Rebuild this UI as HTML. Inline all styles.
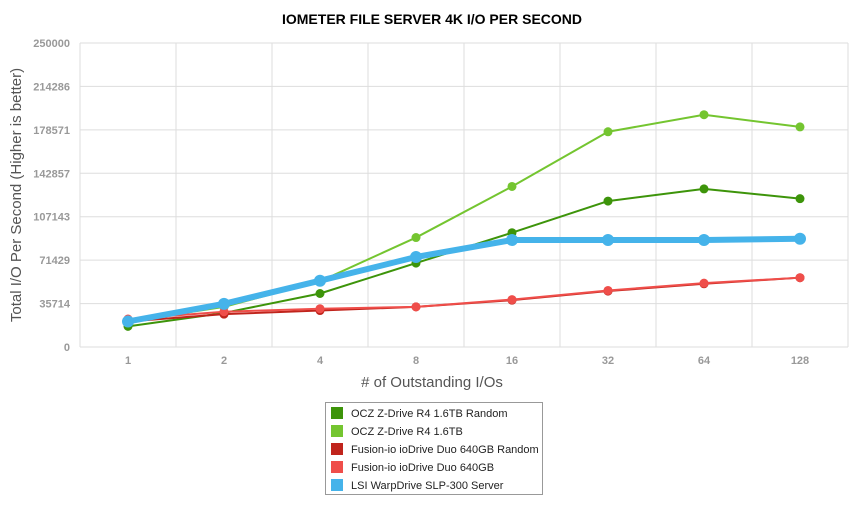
<!DOCTYPE html>
<html><head><meta charset="utf-8"><style>
body{margin:0;background:#fff;font-family:"Liberation Sans",sans-serif}
</style></head><body>
<svg id="chart" width="850" height="517" xmlns="http://www.w3.org/2000/svg">
<text x="432" y="24" text-anchor="middle" font-size="14" font-weight="bold" fill="#000">IOMETER FILE SERVER 4K I/O PER SECOND</text>
<g id="grid"></g>
<g id="series"></g>
<text x="432" y="387" text-anchor="middle" font-size="15" fill="#555"># of Outstanding I/Os</text>
<text transform="translate(21,195) rotate(-90)" text-anchor="middle" font-size="15" fill="#555">Total I/O Per Second (Higher is better)</text>
<g id="legend"></g>
</svg>
<script>
const categories=["1","2","4","8","16","32","64","128"];
const yTicks=[0,35714,71429,107143,142857,178571,214286,250000];
const seriesNames=["OCZ Z-Drive R4 1.6TB Random","OCZ Z-Drive R4 1.6TB","Fusion-io ioDrive Duo 640GB Random","Fusion-io ioDrive Duo 640GB","LSI WarpDrive SLP-300 Server"];
const seriesColors=["#3d940a","#74c530","#c0241c","#ef4e4a","#45b3ea"];
const oczRandom=[17000,28000,44000,69000,94000,120000,130000,122000];
const ocz=[21000,33000,54000,90000,132000,177000,191000,181000];
const fusionRandom=[21000,27000,30000,33000,38500,46000,52000,57000];
const fusion=[23000,29000,31500,33000,39000,46500,52500,57000];
const lsi=[21000,35500,54500,74000,88000,88000,88000,89000];
const allSeries=[oczRandom,ocz,fusionRandom,fusion,lsi];
const NS="http://www.w3.org/2000/svg";
const L=80,R=848,T=43,B=347,yMax=250000;
const band=(R-L)/categories.length;
const xPos=i=>L+band*(i+0.5);
const yPos=v=>B-(v/yMax)*(B-T);
function mk(tag,attrs,parent){const e=document.createElementNS(NS,tag);for(const k in attrs)e.setAttribute(k,attrs[k]);parent.appendChild(e);return e;}
const grid=document.getElementById('grid');
yTicks.forEach(t=>{
 const ln=mk('line',{x1:L,x2:R,y1:yPos(t),y2:yPos(t),stroke:'#ddd','stroke-width':1},grid);
 
 
 const tx=mk('text',{x:L-10,y:yPos(t)+4,'text-anchor':'end','font-size':11,'font-weight':'bold',fill:'#999'},grid);
 tx.textContent=t;
 
 
});
for(let i=0;i<=categories.length;i++){
 const ln=mk('line',{x1:L+band*i,x2:L+band*i,y1:T,y2:B,stroke:'#ddd','stroke-width':1},grid);
 
 
}
categories.forEach((c,i)=>{
 const tx=mk('text',{x:xPos(i),y:B+17,'text-anchor':'middle','font-size':11,'font-weight':'bold',fill:'#999'},grid);
 tx.textContent=c;
 
 
});
const sg=document.getElementById('series');
allSeries.forEach((data,s)=>{
 const g=mk('g',{},sg);
 
 
 const w=s===4?6:2, r=s===4?6:4.5;
 const pl=mk('polyline',{points:data.map((v,i)=>xPos(i)+','+yPos(v)).join(' '),fill:'none',stroke:seriesColors[s],'stroke-width':w,'stroke-linejoin':'round'},g);
 
 
 data.forEach((v,i)=>{
  const c=mk('circle',{cx:xPos(i),cy:yPos(v),r:r,fill:seriesColors[s]},g);
  
  
 });
});
const lg=document.getElementById('legend');
mk('rect',{x:325.5,y:402.5,width:217,height:92,fill:'#fff',stroke:'#999'},lg);
seriesNames.forEach((n,i)=>{
 const y=405+i*18;
 const g=mk('g',{},lg);
 
 
 mk('rect',{x:331,y:y+2,width:12,height:12,fill:seriesColors[i]},g);
 const t=mk('text',{x:351,y:y+12,'font-size':11,fill:'#222'},g);
 t.textContent=n;
});
</script>
</body></html>
